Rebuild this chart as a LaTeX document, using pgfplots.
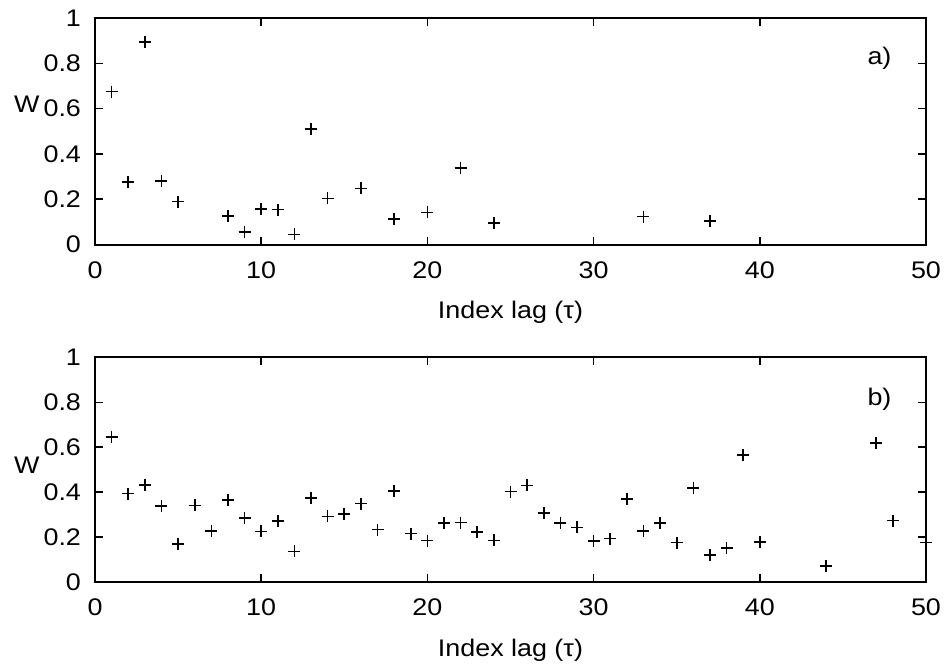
\documentclass[border=0pt]{standalone}
\usepackage{fontspec}
\setmainfont{Liberation Sans}[FakeStretch=1.12]
\usepackage{pgfplots}
\pgfplotsset{compat=1.18}
\begin{document}
\begin{tikzpicture}[font=\fontsize{12}{14}\selectfont]
\useasboundingbox (0,0) rectangle (474pt,-335pt);
\pgfplotsset{
  myax/.style={
    scale only axis, width=415.5pt,
    xmin=0, xmax=50, ymin=0, ymax=1,
    xtick={0,10,20,30,40,50},
    ytick={0,0.2,0.4,0.6,0.8,1},
    minor tick num=0,
    tick align=inside,
    major tick length=4pt,
    tick style={black, line width=0.8pt},
    axis line style={black, line width=1pt},
    /pgf/number format/assume math mode=true,
    yticklabel style={xshift=-3.5pt},
    xticklabel style={yshift=-5pt},
    xlabel={Index lag (τ)},
    ylabel={W},
    ylabel style={rotate=-90, anchor=center},
    clip=false,
  },
  mk/.style={only marks, mark=+, mark size=3pt, black, mark options={line width=0.8pt}},
}
\begin{axis}[myax, at={(47.5pt,-122.25pt)}, anchor=south west, height=113.25pt,
  xlabel style={at={(axis description cs:0.5,-0.30)}, anchor=center},
  every axis y label/.append style={at={(axis description cs:-0.082,0.62)}}]
\addplot[mk] coordinates {
(1,0.675) (2,0.277) (3,0.894) (4,0.280) (5,0.189) (8,0.125) (9,0.054)
(10,0.157) (11,0.154) (12,0.045) (13,0.510) (14,0.204) (16,0.248)
(18,0.113) (20,0.142) (22,0.339) (24,0.094) (33,0.123) (37,0.105)
};
\node at (axis cs:47.2,0.82) {a)};
\end{axis}
\begin{axis}[myax, at={(47.5pt,-290.95pt)}, anchor=south west, height=112.25pt,
  xlabel style={at={(axis description cs:0.5,-0.303)}, anchor=center},
  every axis y label/.append style={at={(axis description cs:-0.082,0.52)}}]
\addplot[mk] coordinates {
(1,0.646) (2,0.393) (3,0.432) (4,0.338) (5,0.169) (6,0.341) (7,0.227)
(8,0.366) (9,0.285) (10,0.225) (11,0.270) (12,0.136) (13,0.374)
(14,0.292) (15,0.303) (16,0.349) (17,0.233) (18,0.404) (19,0.215)
(20,0.184) (21,0.263) (22,0.264) (23,0.222) (24,0.185) (25,0.402)
(26,0.430) (27,0.306) (28,0.263) (29,0.243) (30,0.182) (31,0.193)
(32,0.368) (33,0.227) (34,0.263) (35,0.175) (36,0.418) (37,0.120)
(38,0.150) (39,0.565) (40,0.178) (44,0.071) (47,0.620) (48,0.273)
(50,0.175)
};
\node at (axis cs:47.2,0.815) {b)};
\end{axis}
\end{tikzpicture}
\end{document}
